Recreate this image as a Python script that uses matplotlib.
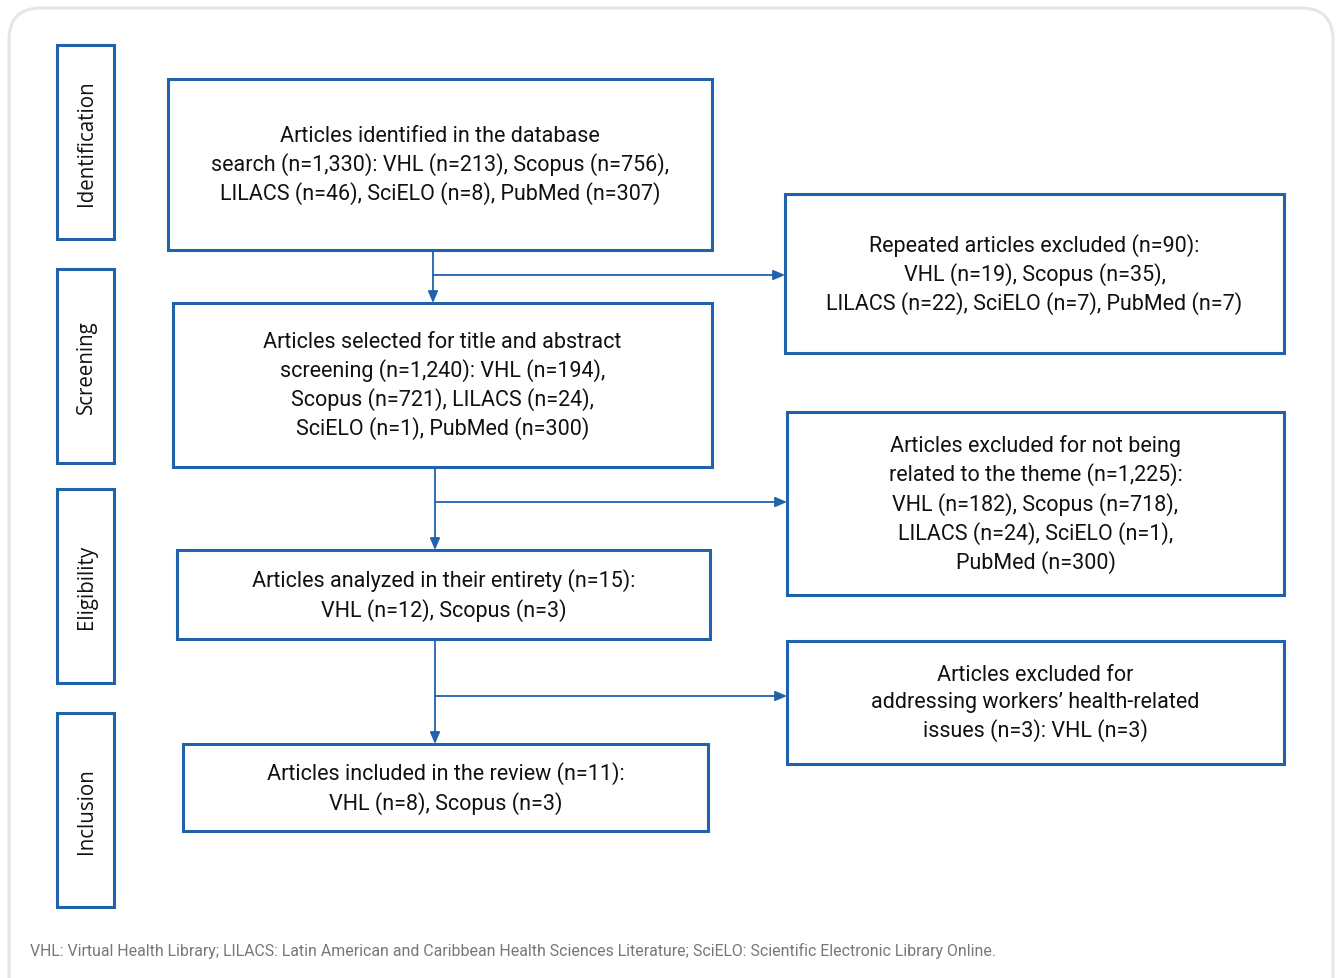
import matplotlib.pyplot as plt
from matplotlib.patches import Rectangle, FancyBboxPatch

# Flow diagram content
stages = ["Identification", "Screening", "Eligibility", "Inclusion"]
main_texts = [
    "Articles identified in the database\nsearch (n=1,330): VHL (n=213), Scopus (n=756),\nLILACS (n=46), SciELO (n=8), PubMed (n=307)",
    "Articles selected for title and abstract\nscreening (n=1,240): VHL (n=194),\nScopus (n=721), LILACS (n=24),\nSciELO (n=1), PubMed (n=300)",
    "Articles analyzed in their entirety (n=15):\nVHL (n=12), Scopus (n=3)",
    "Articles included in the review (n=11):\nVHL (n=8), Scopus (n=3)",
]
side_texts = [
    "Repeated articles excluded (n=90):\nVHL (n=19), Scopus (n=35),\nLILACS (n=22), SciELO (n=7), PubMed (n=7)",
    "Articles excluded for not being\nrelated to the theme (n=1,225):\nVHL (n=182), Scopus (n=718),\nLILACS (n=24), SciELO (n=1),\nPubMed (n=300)",
    "Articles excluded for\naddressing workers\u2019 health-related\nissues (n=3): VHL (n=3)",
]
footnote = ("VHL: Virtual Health Library; LILACS: Latin American and Caribbean Health Sciences "
            "Literature; SciELO: Scientific Electronic Library Online.")

# layout in pixel units (x0, y0, x1, y1)
stage_boxes = [(57, 46, 114, 240), (57, 270, 114, 464), (57, 490, 114, 684), (57, 714, 114, 908)]
main_boxes = [(168, 80, 712, 251), (173, 304, 712, 468), (177, 551, 710, 640), (183, 745, 708, 832)]
side_boxes = [(785, 195, 1284, 354), (787, 413, 1284, 596), (787, 642, 1284, 765)]
arrow_x = [433, 435, 435]
branch_y = [276, 503, 697]

blue = "#2163ab"

fig = plt.figure(figsize=(13.38, 9.79), dpi=100)
ax = fig.add_axes([0, 0, 1, 1])
ax.set_xlim(0, 1338)
ax.set_ylim(979, 0)
ax.axis("off")

# outer rounded frame (open at the bottom)
ax.add_patch(FancyBboxPatch((9, 9), 1324, 1100, boxstyle="round,pad=0,rounding_size=32",
                            fill=False, ec="#e6e6e6", lw=2.2))

def box(b, lw=2.2):
    x0, y0, x1, y1 = b
    ax.add_patch(Rectangle((x0, y0), x1 - x0, y1 - y0, fill=False, ec=blue, lw=lw))

for name, b in zip(stages, stage_boxes):
    box(b)
    ax.text((b[0] + b[2]) / 2 + 1, (b[1] + b[3]) / 2, name, rotation=90, ha="center",
            va="center", fontsize=14.8, family="Open Sans", color="#111111")

for t, b in zip(main_texts, main_boxes):
    box(b)
    ax.text((b[0] + b[2]) / 2, (b[1] + b[3]) / 2, t, ha="center", va="center",
            fontsize=15.5, family="Roboto", linespacing=1.34, color="#111111")

for t, b in zip(side_texts, side_boxes):
    box(b)
    ax.text((b[0] + b[2]) / 2, (b[1] + b[3]) / 2, t, ha="center", va="center",
            fontsize=15.5, family="Roboto", linespacing=1.34, color="#111111")

# connectors
for i in range(3):
    x = arrow_x[i]
    top = main_boxes[i][3]
    bot = main_boxes[i + 1][1]
    ax.annotate("", xy=(x, bot), xytext=(x, top),
                arrowprops=dict(arrowstyle="-|>,head_length=0.7,head_width=0.3",
                                color=blue, lw=1.3, shrinkA=0, shrinkB=0))
    ax.annotate("", xy=(side_boxes[i][0], branch_y[i]), xytext=(x, branch_y[i]),
                arrowprops=dict(arrowstyle="-|>,head_length=0.7,head_width=0.3",
                                color=blue, lw=1.3, shrinkA=0, shrinkB=0))

ax.text(30, 951, footnote, ha="left", va="center", fontsize=11.4, family="Roboto",
        color="#777777")

fig.savefig("out.png", dpi=100)
